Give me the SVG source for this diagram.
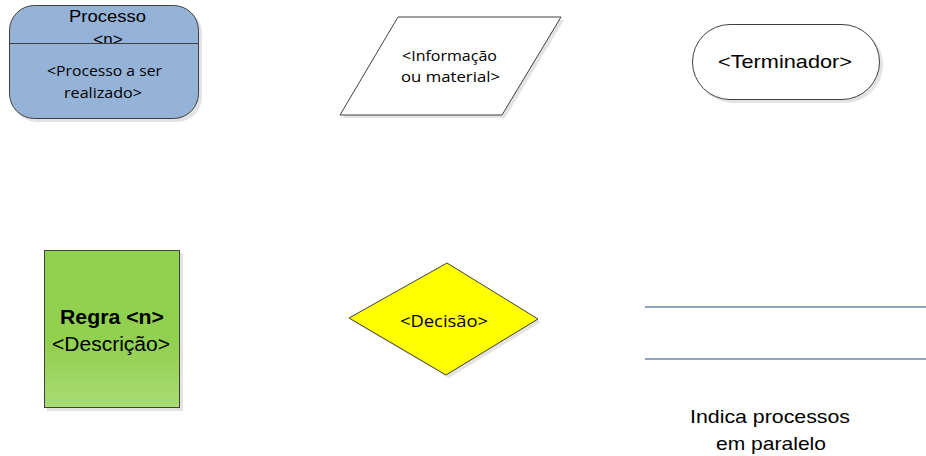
<svg xmlns="http://www.w3.org/2000/svg" width="926" height="456" viewBox="0 0 926 456">
<style>
  .sh { fill: #d0d0d0; opacity: 0.6; }
  .ol { stroke: #404040; stroke-width: 1; }
  .ar { font-family: "Liberation Sans", Arial, sans-serif; fill: #000; text-anchor: middle; }
  .ca { font-family: "Open Sans", "Liberation Sans", sans-serif; fill: #000; text-anchor: middle; }
  .par { stroke: #6d87ad; stroke-width: 1.5; }
</style>
<defs>
  <linearGradient id="gr" x1="0" y1="0" x2="0" y2="1">
    <stop offset="0" stop-color="#92d050"/>
    <stop offset="0.6" stop-color="#92d050"/>
    <stop offset="1" stop-color="#a9dc74"/>
  </linearGradient>
  <clipPath id="topclip"><rect x="0" y="0" width="210" height="43"/></clipPath>
</defs>
<g id="processo">
  <rect class="sh" x="12" y="8" width="190" height="114" rx="25"/>
  <rect class="ol" x="9.5" y="5.5" width="189" height="113" rx="25" fill="#95b3d7"/>
  <text class="ar" x="107.5" y="22" font-size="17" textLength="77" lengthAdjust="spacingAndGlyphs">Processo</text>
  <text class="ar" x="108" y="45" font-size="17" clip-path="url(#topclip)">&lt;n&gt;</text>
  <line class="ol" x1="9.5" y1="43.5" x2="198.5" y2="43.5"/>
  <text class="ca" x="104.5" y="76" font-size="15" textLength="115" lengthAdjust="spacingAndGlyphs">&lt;Processo a ser</text>
  <text class="ca" x="103" y="98" font-size="15" textLength="78" lengthAdjust="spacingAndGlyphs">realizado&gt;</text>
</g>
<g id="informacao">
  <polygon class="sh" points="401,20 564,20 505,118 343,118"/>
  <polygon class="ol" points="398,17 561,17 502,115 340,115" fill="#fff"/>
  <text class="ca" x="449.5" y="61" font-size="15" textLength="95" lengthAdjust="spacingAndGlyphs">&lt;Informação</text>
  <text class="ca" x="450.5" y="82" font-size="15" textLength="99" lengthAdjust="spacingAndGlyphs">ou material&gt;</text>
</g>
<g id="terminador">
  <rect class="sh" x="695" y="27" width="188" height="76" rx="38"/>
  <rect class="ol" x="692.5" y="24.5" width="187" height="75" rx="37.5" fill="#fff"/>
  <text class="ar" x="785" y="68" font-size="19" textLength="134" lengthAdjust="spacingAndGlyphs">&lt;Terminador&gt;</text>
</g>
<g id="regra">
  <rect class="sh" x="47" y="253" width="136" height="158"/>
  <rect class="ol" x="44.5" y="250.5" width="135" height="157" fill="url(#gr)"/>
  <text class="ar" x="112" y="324" font-size="19.5" font-weight="bold" textLength="104" lengthAdjust="spacingAndGlyphs">Regra &lt;n&gt;</text>
  <text class="ar" x="111" y="351" font-size="19.5" textLength="118" lengthAdjust="spacingAndGlyphs">&lt;Descrição&gt;</text>
</g>
<g id="decisao">
  <polygon class="sh" points="450,266 541,322 449,378 352,321"/>
  <polygon class="ol" points="447,263 538,319 446,375 349,318" fill="#ffff00"/>
  <text class="ca" x="444" y="327" font-size="16.5" textLength="88" lengthAdjust="spacingAndGlyphs">&lt;Decisão&gt;</text>
</g>
<g id="connectors">
  <line class="par" x1="645" y1="307" x2="926" y2="307"/>
  <line class="par" x1="645" y1="359" x2="926" y2="359"/>
</g>
<g id="paralelo-label">
  <text class="ar" x="770" y="423" font-size="18.5" textLength="160" lengthAdjust="spacingAndGlyphs">Indica processos</text>
  <text class="ar" x="771" y="450" font-size="18.5" textLength="110" lengthAdjust="spacingAndGlyphs">em paralelo</text>
</g>
</svg>
